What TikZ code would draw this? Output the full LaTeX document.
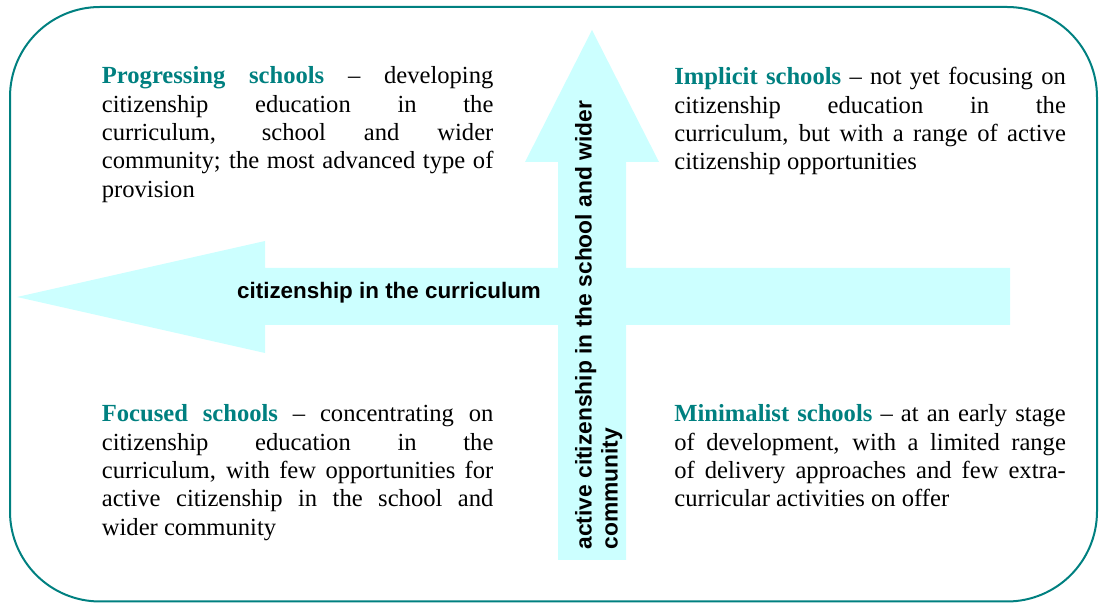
\documentclass[tikz,border=0pt]{standalone}
\usepackage{fontspec}
\setmainfont{Liberation Serif}
\setsansfont{Liberation Sans}
\usepackage{tikz}

\definecolor{frameteal}{RGB}{0,128,128}
\definecolor{headteal}{RGB}{0,128,128}
\definecolor{arrowfill}{RGB}{204,255,255}

\newcommand{\schooltype}[1]{\textcolor{headteal}{\textbf{#1}}}

\begin{document}
\begin{tikzpicture}[x=0.5pt,y=-0.5pt,
    quadrant/.style={anchor=north west, inner sep=0pt, text width=195.75pt, align=justify,
        font=\fontsize{12.3}{14.2}\selectfont,
        execute at begin node={\hyphenpenalty=10000\relax\tolerance=9999\relax}},
    axislabel/.style={inner sep=0pt, font=\sffamily\bfseries\fontsize{#1}{13}\selectfont}]

    \useasboundingbox (0,0) rectangle (1100,603);
    \draw[frameteal, line width=1pt, rounded corners=45pt] (10,7) rectangle (1097,601.5);

    % horizontal arrow, then the vertical one over it
    \fill[arrowfill] (17,297) -- (265,241) -- (265,268) -- (1010,268) -- (1010,325) -- (265,325) -- (265,353) -- cycle;
    \fill[arrowfill] (592,30) -- (659,162) -- (626,162) -- (626,560) -- (558,560) -- (558,162) -- (525,162) -- cycle;

    \node[axislabel=11.2, anchor=base] (curriculum) at (389,298.3) {citizenship in the curriculum};
    \node[axislabel=11.4, rotate=90, anchor=north west, align=left] (community) at (573,550)
        {\strut active citizenship in the school and wider\\community};

    % the four types of school
    \node[quadrant] (progressing) at (101.5,63.5) {\strut\schooltype{Progressing schools} -- developing\linebreak
        citizenship education in the\linebreak curriculum, school and wider\linebreak
        community; the most advanced type of\linebreak provision};
    \node[quadrant] (implicit) at (674,64.5) {\strut\schooltype{Implicit schools} -- not yet focusing on\linebreak
        citizenship education in the\linebreak curriculum, but with a range of active\linebreak
        citizenship opportunities};
    \node[quadrant] (focused) at (101.5,401.5) {\strut\schooltype{Focused schools} -- concentrating on\linebreak
        citizenship education in the\linebreak curriculum, with few opportunities for\linebreak
        active citizenship in the school and\linebreak wider community};
    \node[quadrant] (minimalist) at (674,401.5) {\strut\schooltype{Minimalist schools} -- at an early stage\linebreak
        of development, with a limited range\linebreak of delivery approaches and few extra-\linebreak
        curricular activities on offer};

\end{tikzpicture}
\end{document}
